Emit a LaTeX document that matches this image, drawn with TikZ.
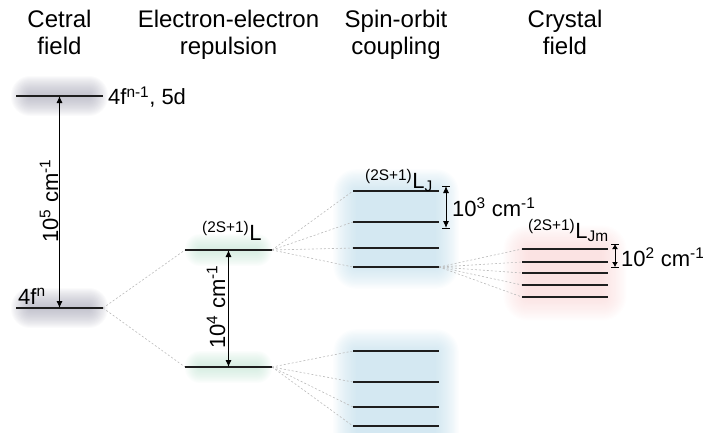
\documentclass[tikz,border=0pt]{standalone}
\usepackage{fontspec}
\setmainfont{Liberation Sans}
\usetikzlibrary{arrows.meta}

\definecolor{lvl}{HTML}{1E1E1E}
\definecolor{glowgrey}{HTML}{9A9AAC}
\definecolor{glowgreen}{HTML}{B8E0CC}
\definecolor{glowblue}{HTML}{B6D8E8}
\definecolor{glowpink}{HTML}{F8C8C8}
\definecolor{dashgrey}{HTML}{BBBBBB}

% soft coloured halo: colour, layer opacity, box corners (x1,y1) (x2,y2), spread
\newcommand{\softglow}[7]{%
  \foreach \k in {1,...,20}{%
    \pgfmathsetmacro{\d}{#7*(1-\k/20)}%
    \fill[#1, fill opacity=#2, rounded corners=\d pt] (#3-\d,#4-\d) rectangle (#5+\d,#6+\d);
  }}

\begin{document}
\begin{tikzpicture}[x=1pt,y=-1pt,
  enlevel/.style={inner sep=0pt, outer sep=0pt, minimum width=87pt, minimum height=0pt},
  levelline/.style={draw=lvl, line width=1.7pt},
  split/.style={draw=dashgrey, line width=0.6pt, dash pattern=on 2pt off 2pt},
  gap/.style={draw=black, line width=0.9pt, {Latex[length=7pt,width=6pt]}-{Latex[length=7pt,width=6pt]}},
  smallgap/.style={draw=black, line width=0.9pt, {Latex[length=5pt,width=6pt]}-{Latex[length=5pt,width=6pt]}},
  title/.style={align=center, font=\fontsize{24}{27}\selectfont, inner sep=0pt, anchor=north},
  lab/.style={font=\fontsize{22}{26}\selectfont, inner sep=0pt},
]
\useasboundingbox (0,0) rectangle (703,432);

% halos behind the level groups
\softglow{glowgrey}{0.045}{30}{95}{89}{97}{20}
\softglow{glowgrey}{0.045}{30}{307}{89}{309}{20}
\softglow{glowgreen}{0.04}{200}{249}{257}{251}{16}
\softglow{glowgreen}{0.04}{200}{366}{257}{368}{16}
\softglow{glowblue}{0.045}{356}{192}{436}{266}{24}
\softglow{glowblue}{0.045}{356}{352}{436}{445}{24}
\softglow{glowpink}{0.035}{528}{250}{602}{296}{26}

% column titles
\node[title] (t1) at (59.5,10) {Cetral\\field};
\node[title] (t2) at (228.5,10) {Electron-electron\\repulsion};
\node[title] (t3) at (396,10) {Spin-orbit\\coupling};
\node[title] (t4) at (565,10) {Crystal\\field};

% energy levels
\node[enlevel] (cfup) at (59.5,96) {};
\node[enlevel] (cfdn) at (59.5,308) {};
\node[enlevel] (eeup) at (228.5,250) {};
\node[enlevel] (eedn) at (228.5,367) {};
\node[enlevel, minimum width=86pt] (so1) at (396,191) {};
\node[enlevel, minimum width=86pt] (so2) at (396,222) {};
\node[enlevel, minimum width=86pt] (so3) at (396,248) {};
\node[enlevel, minimum width=86pt] (so4) at (396,267) {};
\node[enlevel, minimum width=86pt] (so5) at (396,351) {};
\node[enlevel, minimum width=86pt] (so6) at (396,382) {};
\node[enlevel, minimum width=86pt] (so7) at (396,407) {};
\node[enlevel, minimum width=86pt] (so8) at (396,426) {};
\node[enlevel, minimum width=86pt] (cr1) at (565,249) {};
\node[enlevel, minimum width=86pt] (cr2) at (565,262) {};
\node[enlevel, minimum width=86pt] (cr3) at (565,273) {};
\node[enlevel, minimum width=86pt] (cr4) at (565,285) {};
\node[enlevel, minimum width=86pt] (cr5) at (565,297) {};

% splitting connectors
\draw[split] (cfdn.east) -- (eeup.west);
\draw[split] (cfdn.east) -- (eedn.west);
\foreach \n in {so1,so2,so3,so4} \draw[split] (eeup.east) -- (\n.west);
\foreach \n in {so5,so6,so7,so8} \draw[split] (eedn.east) -- (\n.west);
\foreach \n in {cr1,cr2,cr3,cr4,cr5} \draw[split] (so4.east) -- (\n.west);

\foreach \n in {cfup,cfdn,eeup,eedn,so1,so2,so3,so4,so5,so6,so7,so8,cr1,cr2,cr3,cr4,cr5}
  \draw[levelline] (\n.west) -- (\n.east);

% energy gaps
\draw[gap] (cfup) -- (cfdn);
\draw[gap] (eeup) -- (eedn);

\coordinate (b3t) at (446,186);
\coordinate (b3b) at (446,228);
\draw[gap] (b3t) -- (b3b);
\draw[line width=1pt] ([xshift=-4pt]b3t) -- ([xshift=4pt]b3t);
\draw[line width=1pt] ([xshift=-4pt]b3b) -- ([xshift=4pt]b3b);

\coordinate (b2t) at (615,244);
\coordinate (b2b) at (615,267);
\draw[smallgap] (b2t) -- (b2b);
\draw[line width=1pt] ([xshift=-4pt]b2t) -- ([xshift=4pt]b2t);
\draw[line width=1pt] ([xshift=-4pt]b2b) -- ([xshift=4pt]b2b);

% labels
\node[lab, anchor=west] (l5d) at (108,97) {4f\textsuperscript{n-1}, 5d};
\node[lab, anchor=base west] (l4f) at (18,304) {4f\textsuperscript{n}};
\node[lab, rotate=90, anchor=base] (e5) at (58,201) {10\textsuperscript{5} cm\textsuperscript{-1}};
\node[lab, rotate=90, anchor=base] (e4) at (225,307) {10\textsuperscript{4} cm\textsuperscript{-1}};
\node[lab, anchor=west] (e3) at (452,207) {10\textsuperscript{3} cm\textsuperscript{-1}};
\node[lab, anchor=west] (e2) at (621,257) {10\textsuperscript{2} cm\textsuperscript{-1}};
\node[lab, anchor=base west] (tL) at (202,240) {\textsuperscript{(2S+1)}L};
\node[lab, anchor=base west] (tLJ) at (365,188) {\textsuperscript{(2S+1)}L\textsubscript{J}};
\node[lab, anchor=base west] (tLJm) at (528,238) {\textsuperscript{(2S+1)}L\textsubscript{Jm}};
\end{tikzpicture}
\end{document}
